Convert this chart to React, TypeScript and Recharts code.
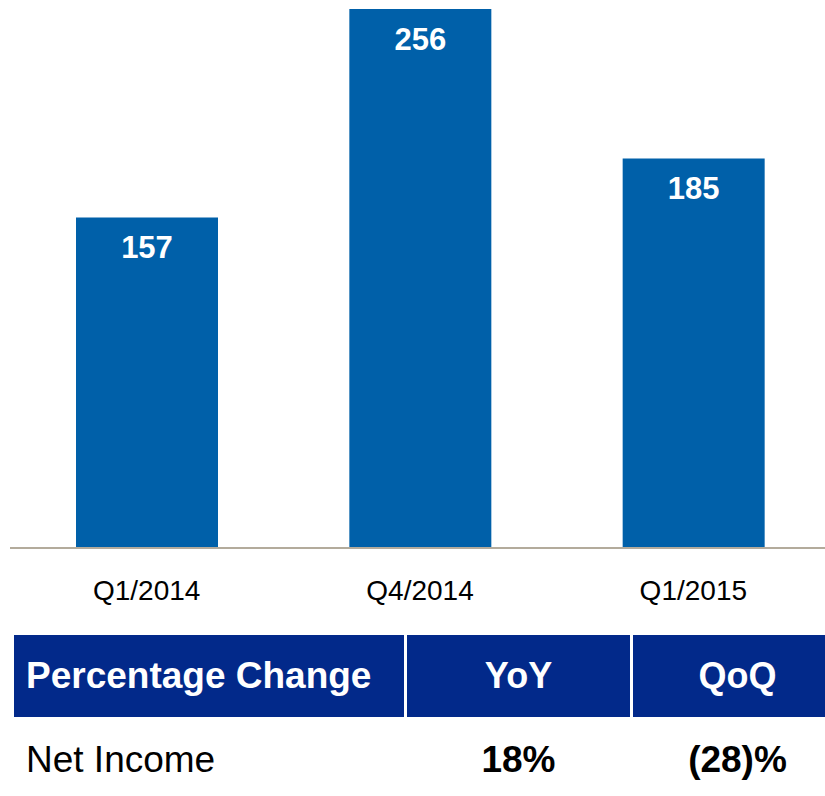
import React from 'react';
import { BarChart, Bar, XAxis, YAxis, LabelList } from 'recharts';

const categories = ['Q1/2014', 'Q4/2014', 'Q1/2015'];
const netIncome = [157, 256, 185];
const tableHeader = ['Percentage Change', 'YoY', 'QoQ'];
const tableRow = ['Net Income', '18%', '(28)%'];

const data = categories.map((c, i) => ({ name: c, value: netIncome[i] }));

const FONT = '"Liberation Sans", Arial, Helvetica, sans-serif';
const BAR = '#0060a9';
const NAVY = '#02298a';

export default function App() {
  return (
    <div
      style={{
        position: 'absolute',
        left: 0,
        top: 0,
        width: 825,
        height: 796,
        overflow: 'hidden',
        background: '#fff',
        fontFamily: FONT,
      }}
    >
      <div style={{ position: 'absolute', left: 0, top: 0 }}>
        <BarChart
          width={830}
          height={620}
          data={data}
          margin={{ top: 9, right: 0, bottom: 12, left: 10 }}
        >
          <XAxis
            dataKey="name"
            height={60}
            tickLine={false}
            tickSize={0}
            tickMargin={32}
            axisLine={{ stroke: '#b3ab9c', strokeWidth: 2 }}
            tick={{ fill: '#000', fontSize: 28, fontFamily: FONT }}
          />
          <YAxis hide domain={[0, 256]} />
          <Bar dataKey="value" fill={BAR} barSize={142} isAnimationActive={false}>
            <LabelList
              dataKey="value"
              position="insideTop"
              offset={19}
              fill="#fff"
              fontSize={31}
              fontWeight="bold"
              fontFamily={FONT}
            />
          </Bar>
        </BarChart>
      </div>

      {/* header row */}
      <div
        style={{
          position: 'absolute',
          left: 14,
          top: 635,
          width: 390,
          height: 82,
          background: NAVY,
          color: '#fff',
          fontWeight: 'bold',
          fontSize: 37,
          lineHeight: '82px',
          paddingLeft: 12,
          boxSizing: 'border-box',
          whiteSpace: 'nowrap',
        }}
      >
        {tableHeader[0]}
      </div>
      <div
        style={{
          position: 'absolute',
          left: 407,
          top: 635,
          width: 223,
          height: 82,
          background: NAVY,
          color: '#fff',
          fontWeight: 'bold',
          fontSize: 36,
          lineHeight: '82px',
          textAlign: 'center',
        }}
      >
        {tableHeader[1]}
      </div>
      <div
        style={{
          position: 'absolute',
          left: 633,
          top: 635,
          width: 209,
          height: 82,
          background: NAVY,
          color: '#fff',
          fontWeight: 'bold',
          fontSize: 36,
          lineHeight: '82px',
          textAlign: 'center',
        }}
      >
        {tableHeader[2]}
      </div>

      {/* data row */}
      <div
        style={{
          position: 'absolute',
          left: 26,
          top: 720,
          width: 380,
          height: 80,
          color: '#000',
          fontSize: 37,
          lineHeight: '80px',
          whiteSpace: 'nowrap',
        }}
      >
        {tableRow[0]}
      </div>
      <div
        style={{
          position: 'absolute',
          left: 407,
          top: 720,
          width: 223,
          height: 80,
          color: '#000',
          fontWeight: 'bold',
          fontSize: 37,
          lineHeight: '80px',
          textAlign: 'center',
        }}
      >
        {tableRow[1]}
      </div>
      <div
        style={{
          position: 'absolute',
          left: 633,
          top: 720,
          width: 209,
          height: 80,
          color: '#000',
          fontWeight: 'bold',
          fontSize: 37,
          lineHeight: '80px',
          textAlign: 'center',
        }}
      >
        {tableRow[2]}
      </div>
    </div>
  );
}
